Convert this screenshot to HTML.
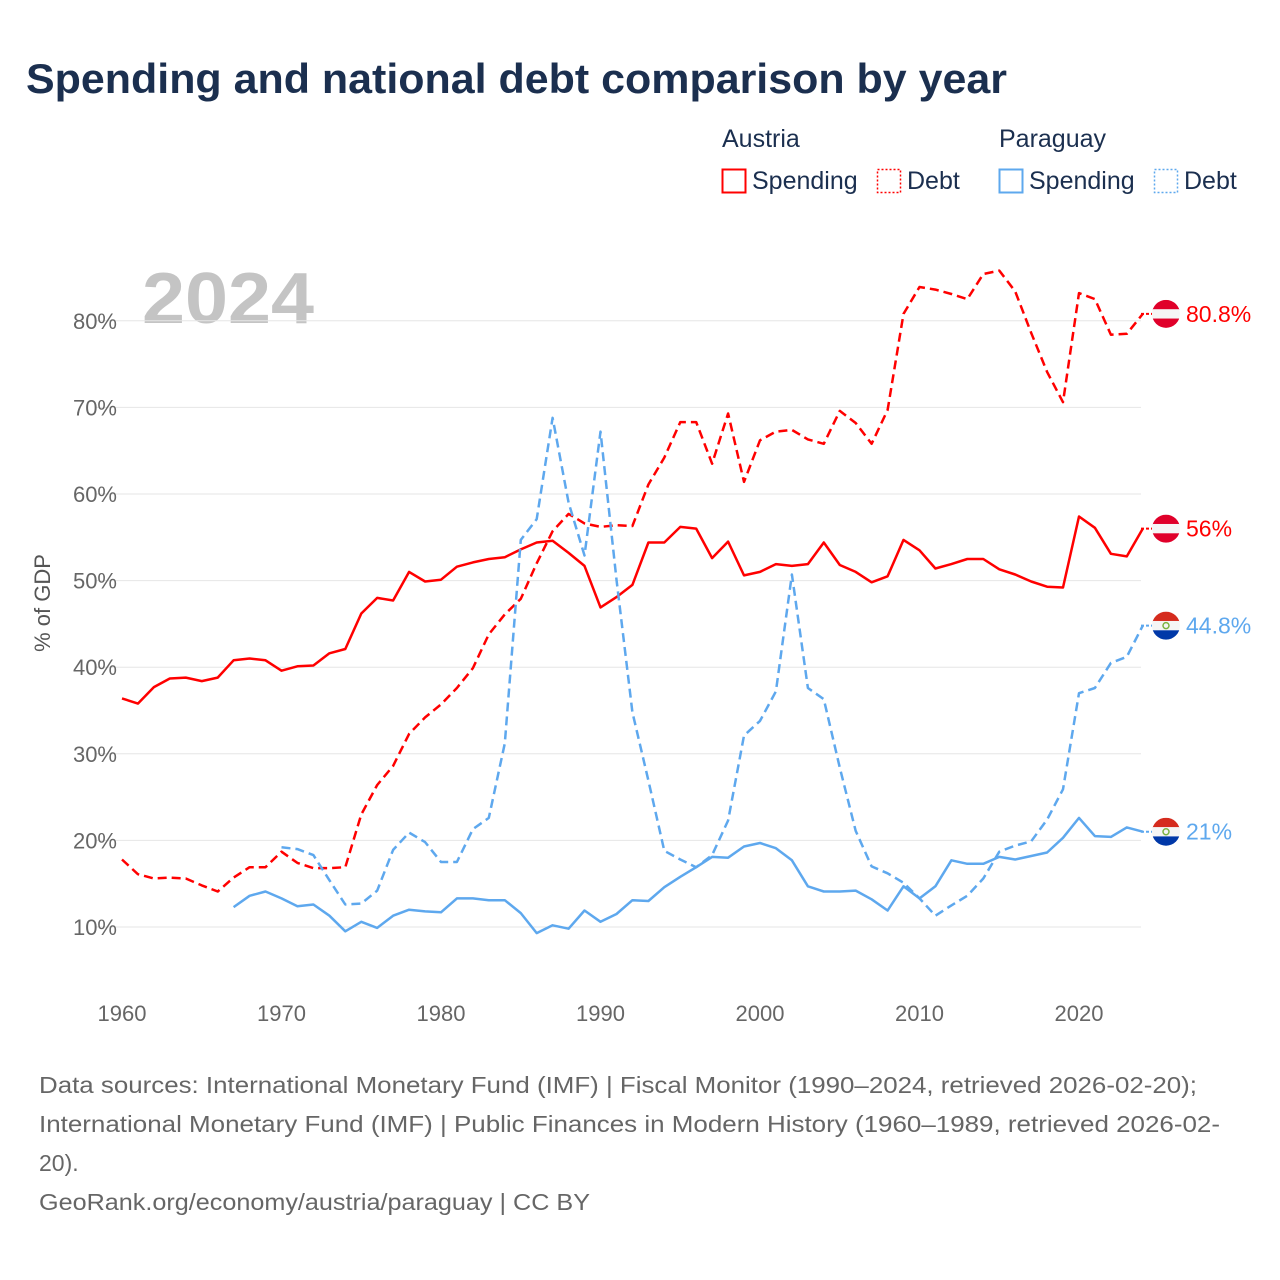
<!DOCTYPE html>
<html><head><meta charset="utf-8"><style>
body{margin:0;width:1280px;height:1280px;background:#fff;font-family:"Liberation Sans",sans-serif;overflow:hidden}
svg{position:absolute;left:0;top:0}
</style></head><body>
<svg id="c" width="1280" height="1280" xmlns="http://www.w3.org/2000/svg">
<text x="26" y="93" font-size="42" font-weight="bold" fill="#1b2f4f" textLength="981" lengthAdjust="spacingAndGlyphs">Spending and national debt comparison by year</text>
<g font-size="25" fill="#1b2f4f">
<text x="722" y="147">Austria</text>
<text x="999" y="147">Paraguay</text>
<g><rect x="722.5" y="169.5" width="23" height="23" fill="none" stroke="#f00" stroke-width="2"/><text x="752" y="189">Spending</text></g>
<g><rect x="877.5" y="169.5" width="23" height="23" fill="none" stroke="#f00" stroke-width="1.5" stroke-dasharray="2 2"/><text x="907" y="189">Debt</text></g>
<g><rect x="999.5" y="169.5" width="23" height="23" fill="none" stroke="#5ea8ee" stroke-width="2"/><text x="1029" y="189">Spending</text></g>
<g><rect x="1154.5" y="169.5" width="23" height="23" fill="none" stroke="#5ea8ee" stroke-width="1.5" stroke-dasharray="2 2"/><text x="1184" y="189">Debt</text></g>
</g>
<text x="142" y="323" font-size="72" font-weight="bold" fill="#c4c4c4" textLength="172" lengthAdjust="spacingAndGlyphs">2024</text>
<text transform="translate(50,603) rotate(-90)" text-anchor="middle" font-size="22" fill="#555">% of GDP</text>
<g id="grid"></g><g id="series"></g><g id="ends"></g>
<g font-size="23" fill="#666">
<text x="39" y="1093" textLength="1158" lengthAdjust="spacingAndGlyphs">Data sources: International Monetary Fund (IMF) | Fiscal Monitor (1990–2024, retrieved 2026-02-20);</text>
<text x="39" y="1132" textLength="1181" lengthAdjust="spacingAndGlyphs">International Monetary Fund (IMF) | Public Finances in Modern History (1960–1989, retrieved 2026-02-</text>
<text x="39" y="1171">20).</text>
<text x="39" y="1210" textLength="551" lengthAdjust="spacingAndGlyphs">GeoRank.org/economy/austria/paraguay | CC BY</text>
</g>
</svg>
<script>
const yTicks=[10,20,30,40,50,60,70,80];
const xTicks=[1960,1970,1980,1990,2000,2010,2020];
const atSpendStart=1960;
const atSpending=[36.4,35.8,37.7,38.7,38.8,38.4,38.8,40.8,41.0,40.8,39.6,40.1,40.2,41.6,42.1,46.2,48.0,47.7,51.0,49.9,50.1,51.6,52.1,52.5,52.7,53.6,54.4,54.6,53.2,51.7,46.9,48.1,49.5,54.4,54.4,56.2,56.0,52.6,54.5,50.6,51.0,51.9,51.7,51.9,54.4,51.8,51.0,49.8,50.5,54.7,53.5,51.4,51.9,52.5,52.5,51.3,50.7,49.9,49.3,49.2,57.4,56.1,53.1,52.8,56.0];
const atDebtStart=1960;
const atDebt=[17.8,16.1,15.6,15.7,15.6,14.8,14.1,15.7,16.9,16.9,18.7,17.4,16.8,16.8,16.9,23.0,26.4,28.6,32.3,34.2,35.7,37.6,39.9,43.8,46.1,47.9,52.0,55.7,57.7,56.6,56.2,56.4,56.3,61.1,64.2,68.3,68.3,63.5,69.3,61.4,66.2,67.2,67.4,66.3,65.8,69.6,68.2,65.8,69.7,80.8,83.9,83.6,83.1,82.5,85.4,85.8,83.4,78.6,74.1,70.6,83.2,82.5,78.4,78.5,80.8];
const pySpendStart=1967;
const pySpending=[12.3,13.6,14.1,13.3,12.4,12.6,11.3,9.5,10.6,9.9,11.3,12.0,11.8,11.7,13.3,13.3,13.1,13.1,11.6,9.3,10.2,9.8,11.9,10.6,11.5,13.1,13.0,14.6,15.8,16.9,18.1,18.0,19.3,19.7,19.1,17.7,14.7,14.1,14.1,14.2,13.2,11.9,14.7,13.3,14.7,17.7,17.3,17.3,18.1,17.8,18.2,18.6,20.3,22.6,20.5,20.4,21.5,21.0];
const pyDebtStart=1970;
const pyDebt=[19.2,19.0,18.3,15.4,12.6,12.7,14.2,18.9,20.9,19.8,17.5,17.5,21.3,22.6,31.2,54.7,57.1,68.8,59.0,52.9,67.2,50.1,34.8,26.9,18.8,17.8,16.9,18.3,22.3,32.1,33.8,37.2,50.7,37.6,36.3,28.4,21.1,17.0,16.2,15.1,13.3,11.3,12.5,13.6,15.6,18.7,19.4,19.9,22.4,25.9,37.0,37.6,40.5,41.2,44.8];

const NS="http://www.w3.org/2000/svg";
const X=y=>122+(y-1960)*15.95;
const Y=v=>1013.6-v*8.66;
function mk(tag,attrs,parent){const e=document.createElementNS(NS,tag);for(const k in attrs)e.setAttribute(k,attrs[k]);parent.appendChild(e);return e;}
const grid=document.getElementById('grid');
yTicks.forEach(t=>{
  const l=mk('line',{x1:95,x2:1141,y1:Y(t),y2:Y(t),stroke:'#e6e6e6','stroke-width':1},grid);
  
  
  const tx=mk('text',{x:117,y:Y(t)+8,'text-anchor':'end','font-size':22,fill:'#666'},grid);
  tx.textContent=t+'%';
  
  
});
xTicks.forEach(t=>{
  const tx=mk('text',{x:X(t),y:1021,'text-anchor':'middle','font-size':22,fill:'#666'},grid);
  tx.textContent=t;
  
  
});
const ser=document.getElementById('series');
function line(data,start,color,dash,name){
  const d=data.map((v,i)=>(i?'L':'M')+X(start+i).toFixed(1)+' '+Y(v).toFixed(1)).join(' ');
  const p=mk('path',{d:d,fill:'none',stroke:color,'stroke-width':2.5,'stroke-linejoin':'round'},ser);
  if(dash)p.setAttribute('stroke-dasharray','9 5');
  
  
}
line(atSpending,atSpendStart,'#ff0000',false,'austria-spending-line');
line(atDebt,atDebtStart,'#ff0000',true,'austria-debt-line');
line(pySpending,pySpendStart,'#5ea8ee',false,'paraguay-spending-line');
line(pyDebt,pyDebtStart,'#5ea8ee',true,'paraguay-debt-line');
const ends=document.getElementById('ends');
function endLabel(v,color,country,name){
  const cy=Y(v),cx=1166,g=mk('g',{},ends);
  
  
  mk('line',{x1:1141,x2:1152,y1:cy,y2:cy,stroke:color,'stroke-width':2,'stroke-dasharray':'3 2'},g);
  const id='cl'+name;
  const cp=mk('clipPath',{id:id},g);mk('circle',{cx:cx,cy:cy,r:14},cp);
  const cols=country==='at'?['#e0002a','#f5f5f5','#e0002a']:['#d52b1e','#f5f5f5','#0038a8'];
  cols.forEach((c,i)=>mk('rect',{x:cx-14,y:cy-14+i*28/3,width:28,height:28/3+0.5,fill:c,'clip-path':'url(#'+id+')'},g));
  if(country==='py')mk('circle',{cx:cx,cy:cy,r:3,fill:'none',stroke:'#7cb342','stroke-width':1.5},g);
  const t=mk('text',{x:1186,y:cy+8,'font-size':23,fill:color},g);
  t.textContent=(Math.round(v*10)/10)+'%';
}
endLabel(atDebt[atDebt.length-1],'#ff0000','at','austria-debt-end-label');
endLabel(atSpending[atSpending.length-1],'#ff0000','at','austria-spending-end-label');
endLabel(pyDebt[pyDebt.length-1],'#5ea8ee','py','paraguay-debt-end-label');
endLabel(pySpending[pySpending.length-1],'#5ea8ee','py','paraguay-spending-end-label');
</script>
</body></html>
